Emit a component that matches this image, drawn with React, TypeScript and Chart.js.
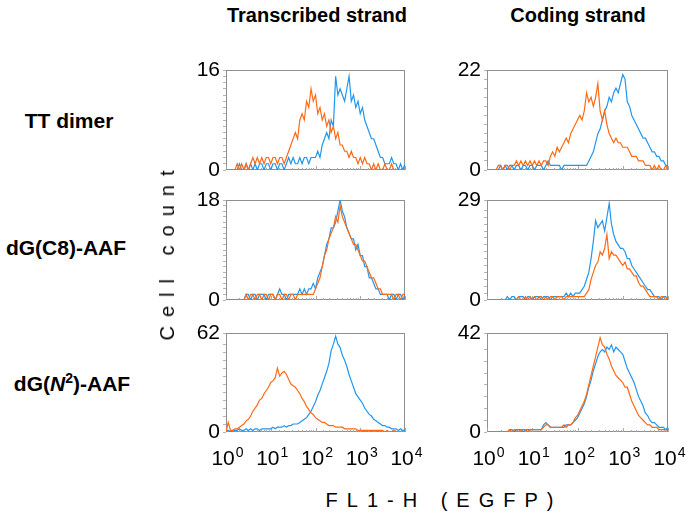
import React, { useEffect, useRef } from 'react';
import { Chart, registerables } from 'chart.js';

Chart.register(...registerables);

// Channel grid: 81 channels spread over 4 log decades (20 channels per decade)
const CHANNELS: number[] = Array.from({ length: 81 }, (_, i) => Math.pow(10, i / 20));
const X_DECADES = [0, 1, 2, 3, 4];

const COLUMN_TITLES = ['Transcribed strand', 'Coding strand'];
const Y_MAX = [16, 22, 18, 29, 62, 42];

// TT dimer — transcribed strand
const TT_TR_ORANGE = [0,0,0,0,0,1,0,1,0,1,0,1,2,1,2,1,2,1,2,2,1,2,2,1,2,2,1,2,3,4,5,6,5,8,9,8,11,10,13,11,12,9,10,8,9,7,8,6,7,5,6,4,4,3,3,2,3,2,2,1,2,1,2,1,1,0,1,0,1,0,0,1,0,0,1,0,0,0,0,0,0];
const TT_TR_BLUE = [0,0,0,0,0,0,1,0,0,1,0,1,0,1,0,1,1,0,1,1,0,1,1,0,1,1,0,1,2,1,2,1,1,2,1,2,2,1,2,2,2,3,2,4,5,6,5,8,7,15,12,13,12,11,13,15,11,12,10,11,9,10,8,7,6,5,5,4,3,2,2,1,1,1,2,1,1,0,1,0,1];
// TT dimer — coding strand
const TT_CO_ORANGE = [0,0,0,0,0,1,1,0,1,1,0,1,1,2,1,2,1,2,1,2,1,2,1,2,1,2,2,1,3,4,3,5,4,5,6,7,6,8,9,10,11,12,11,13,17,15,16,14,16,19,13,11,13,10,8,7,6,7,6,6,5,5,5,4,3,3,3,2,2,2,1,1,1,0,1,0,1,0,0,1,0];
const TT_CO_BLUE = [0,0,0,0,0,0,1,0,1,0,1,1,0,1,1,0,1,1,0,1,1,0,1,1,1,0,1,2,1,1,1,1,1,0,1,1,1,1,1,1,1,1,1,1,1,2,3,4,6,8,9,11,13,14,16,15,17,18,17,19,21,20,15,14,12,11,10,9,8,7,7,6,5,4,4,3,3,2,2,1,1];
// dG(C8)-AAF — transcribed strand
const C8_TR_ORANGE = [0,0,0,0,0,0,0,0,0,1,0,1,1,0,1,1,0,1,1,0,1,1,0,1,1,0,1,1,0,1,1,0,1,1,1,1,1,1,1,1,2,3,4,6,8,9,11,12,13,15,14,17,15,14,13,12,11,10,10,9,8,7,7,6,5,4,4,3,2,2,1,1,1,1,1,0,1,1,0,1,1];
const C8_TR_BLUE = [0,0,0,0,0,0,0,0,0,1,1,0,1,1,0,1,1,1,0,1,1,1,0,1,2,1,1,0,1,1,1,1,1,2,1,2,1,2,2,3,2,4,5,6,8,10,11,13,13,14,16,18,16,15,13,12,11,11,9,10,8,8,6,6,4,4,3,2,2,1,1,1,1,0,1,1,0,1,1,0,1];
// dG(C8)-AAF — coding strand
const C8_CO_ORANGE = [0,0,0,0,0,0,0,0,0,0,0,0,0,0,1,0,0,1,0,1,0,1,0,1,1,0,1,0,1,1,0,1,1,1,0,1,1,1,1,1,1,1,1,1,2,3,6,8,10,11,14,13,15,19,12,14,13,13,12,11,10,11,9,9,8,7,7,5,4,4,3,2,1,1,1,1,0,1,1,0,1];
const C8_CO_BLUE = [0,0,0,0,0,0,0,0,0,1,0,1,1,0,1,1,1,0,1,1,0,1,1,1,0,1,1,1,0,1,1,1,1,1,1,2,1,2,1,2,2,2,3,4,6,8,12,17,23,21,22,23,20,24,28,22,19,17,16,15,15,14,12,12,10,9,8,7,6,5,4,3,3,2,1,1,1,0,1,1,0];
// dG(N2)-AAF — transcribed strand
const N2_TR_ORANGE = [0,6,1,1,2,2,3,4,5,7,8,10,13,15,17,20,21,24,26,28,31,32,34,40,35,37,38,36,33,30,29,28,26,24,21,19,16,14,12,11,9,8,7,6,6,5,4,4,4,3,3,3,3,2,2,2,2,2,2,1,1,1,1,1,1,1,1,1,1,1,1,0,1,0,0,1,0,0,0,0,0];
const N2_TR_BLUE = [1,1,0,1,1,1,2,1,1,2,1,2,1,2,2,1,2,2,2,2,2,3,2,3,3,3,4,3,4,4,5,5,5,6,7,8,9,11,13,16,19,23,26,30,34,38,43,51,55,60,55,53,48,45,41,36,32,28,24,22,20,18,15,13,11,10,8,7,6,5,4,4,3,3,2,2,2,1,2,1,1];
// dG(N2)-AAF — coding strand
const N2_CO_ORANGE = [0,0,0,0,0,0,0,0,0,0,1,0,1,1,0,1,1,1,0,1,1,1,1,1,1,2,3,3,2,2,2,2,2,2,3,2,3,3,4,6,7,9,11,13,16,20,24,28,32,36,40,37,36,33,31,28,26,24,23,22,21,19,19,16,13,11,9,7,6,5,4,3,3,2,2,2,1,1,1,1,1];
const N2_CO_BLUE = [0,0,0,0,0,0,0,0,0,0,1,1,0,1,1,1,0,1,1,1,1,1,1,1,1,3,4,3,2,2,2,2,2,2,2,3,3,3,4,5,6,8,10,12,15,19,22,26,29,32,34,35,34,36,35,37,34,36,35,34,33,30,27,25,23,21,18,15,13,11,8,7,5,4,4,3,2,2,2,1,2];

const ORANGE = '#FF6A14';
const BLUE = '#2197EE';
const FONT = "'Liberation Sans', Arial, Helvetica, sans-serif";

type PanelDef = {
  left: number; top: number; width: number; height: number;
  orange: number[]; blue: number[]; ymax: number; showX: boolean;
};

const COL_X = [[226, 405], [487, 668]];
const ROW_Y = [[70, 170], [200, 300], [333, 432]];
const SERIES: [number[], number[]][] = [
  [TT_TR_ORANGE, TT_TR_BLUE], [TT_CO_ORANGE, TT_CO_BLUE],
  [C8_TR_ORANGE, C8_TR_BLUE], [C8_CO_ORANGE, C8_CO_BLUE],
  [N2_TR_ORANGE, N2_TR_BLUE], [N2_CO_ORANGE, N2_CO_BLUE],
];

const PAD_L = 60, PAD_T = 16, PAD_R = 22, PAD_B = 48;

const framePlugin = {
  id: 'frame',
  beforeDatasetsDraw(chart: any) {
    const { ctx, chartArea: a } = chart;
    ctx.save();
    ctx.strokeStyle = '#8f8f8f';
    ctx.lineWidth = 1;
    ctx.strokeRect(Math.round(a.left) + 0.5, Math.round(a.top) + 0.5,
      Math.round(a.right - a.left) - 1, Math.round(a.bottom - a.top) - 1);
    // small inward tick marks at the x scale's own log ticks
    const xs = chart.scales.x;
    ctx.strokeStyle = '#a8a8a8';
    ctx.beginPath();
    for (const t of xs.ticks) {
      const px = Math.round(xs.getPixelForValue(t.value)) + 0.5;
      const isDecade = Math.abs(Math.log10(t.value) - Math.round(Math.log10(t.value))) < 1e-6;
      ctx.moveTo(px, a.bottom);
      ctx.lineTo(px, a.bottom - (isDecade ? 4 : 2));
    }
    ctx.stroke();
    ctx.restore();
  },
};

const xLabelPlugin = {
  id: 'xlabels',
  afterDraw(chart: any) {
    const { ctx, chartArea: a } = chart;
    const xs = chart.scales.x;
    ctx.save();
    ctx.fillStyle = '#000';
    ctx.textBaseline = 'alphabetic';
    ctx.textAlign = 'left';
    for (const e of X_DECADES) {
      const px = xs.getPixelForValue(Math.pow(10, e));
      ctx.font = `21px ${FONT}`;
      const w1 = ctx.measureText('10').width;
      ctx.font = `14px ${FONT}`;
      const w2 = ctx.measureText(String(e)).width;
      const start = px - (w1 + w2) / 2 + 1;
      const base = a.bottom + 33;
      ctx.font = `21px ${FONT}`;
      ctx.fillText('10', start, base);
      ctx.font = `14px ${FONT}`;
      ctx.fillText(String(e), start + w1 + 1, base - 8);
    }
    ctx.restore();
  },
};

function Panel({ p }: { p: PanelDef }) {
  const ref = useRef<HTMLCanvasElement>(null);
  useEffect(() => {
    const step = p.ymax <= 20 ? 1 : p.ymax <= 30 ? 2 : 5;
    const chart = new Chart(ref.current as HTMLCanvasElement, {
      type: 'line',
      data: {
        datasets: [
          {
            data: p.orange.map((v, i) => ({ x: CHANNELS[i], y: v })),
            borderColor: ORANGE, borderWidth: 1.2, pointRadius: 0, tension: 0, fill: false,
          },
          {
            data: p.blue.map((v, i) => ({ x: CHANNELS[i], y: v })),
            borderColor: BLUE, borderWidth: 1.2, pointRadius: 0, tension: 0, fill: false,
          },
        ],
      },
      options: {
        animation: false,
        responsive: false,
        maintainAspectRatio: false,
        layout: { padding: { top: PAD_T, right: PAD_R, left: 0, bottom: 0 } },
        plugins: { legend: { display: false }, tooltip: { enabled: false } },
        scales: {
          x: {
            type: 'logarithmic', min: 1, max: 10000,
            border: { display: false },
            grid: { display: false },
            ticks: { display: false },
            afterFit: (s: any) => { s.height = PAD_B; },
          },
          y: {
            type: 'linear', min: 0, max: p.ymax,
            border: { display: false },
            grid: { drawOnChartArea: false, drawTicks: true, tickLength: 3, color: '#b5b5b5' },
            ticks: {
              stepSize: step, autoSkip: false, color: '#000', padding: 3,
              font: { family: FONT, size: 21 },
              callback: (v: any) => (v === 0 || v === p.ymax ? String(v) : ''),
            },
            afterFit: (s: any) => { s.width = PAD_L; },
          },
        },
      } as any,
      plugins: p.showX ? [framePlugin, xLabelPlugin] : [framePlugin],
    });
    return () => chart.destroy();
  }, []);
  const w = p.width + PAD_L + PAD_R;
  const h = p.height + PAD_T + PAD_B;
  return (
    <canvas
      ref={ref}
      width={w}
      height={h}
      style={{ position: 'absolute', left: p.left - PAD_L, top: p.top - PAD_T, width: w, height: h }}
    />
  );
}

export default function App() {
  const panels: PanelDef[] = [];
  for (let r = 0; r < 3; r++) {
    for (let c = 0; c < 2; c++) {
      const idx = r * 2 + c;
      panels.push({
        left: COL_X[c][0], top: ROW_Y[r][0],
        width: COL_X[c][1] - COL_X[c][0], height: ROW_Y[r][1] - ROW_Y[r][0],
        orange: SERIES[idx][0], blue: SERIES[idx][1], ymax: Y_MAX[idx], showX: r === 2,
      });
    }
  }
  const bold = { position: 'absolute' as const, fontWeight: 700, whiteSpace: 'nowrap' as const, transform: 'translate(-50%, -50%)', lineHeight: 1 };
  return (
    <div style={{ position: 'fixed', left: 0, top: 0, width: 690, height: 523, background: '#fff', fontFamily: FONT, color: '#000', overflow: 'hidden' }}>
      {panels.map((p, i) => <Panel key={i} p={p} />)}
      <div style={{ ...bold, fontSize: 20, left: 317, top: 15 }}>{COLUMN_TITLES[0]}</div>
      <div style={{ ...bold, fontSize: 20, left: 578, top: 15 }}>{COLUMN_TITLES[1]}</div>
      <div style={{ ...bold, fontSize: 21, left: 69, top: 120 }}>TT dimer</div>
      <div style={{ ...bold, fontSize: 21, left: 66, top: 247 }}>dG(C8)-AAF</div>
      <div style={{ ...bold, fontSize: 21, left: 72, top: 383 }}>dG(<i>N</i><sup style={{ fontSize: 14, verticalAlign: 'top', position: 'relative', top: -2 }}>2</sup>)-AAF</div>
      <div style={{ position: 'absolute', left: 167, top: 251, fontSize: 20, letterSpacing: 9, whiteSpace: 'nowrap', lineHeight: 1, transform: 'translate(-50%, -50%) rotate(-90deg)' }}>Cell count</div>
      <div style={{ position: 'absolute', left: 444, top: 500, fontSize: 20, letterSpacing: 9, whiteSpace: 'nowrap', lineHeight: 1, transform: 'translate(-50%, -50%)' }}>FL1-H (EGFP)</div>
    </div>
  );
}
